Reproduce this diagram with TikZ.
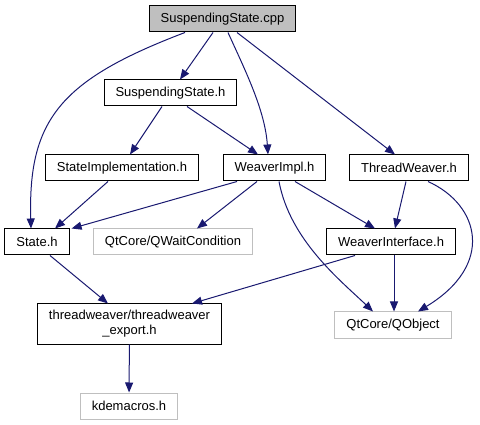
\documentclass[tikz,border=0pt]{standalone}
\usepackage{fontspec}
\setmainfont{Liberation Sans}
\usetikzlibrary{arrows.meta}
\definecolor{edgeblue}{HTML}{191970}
\definecolor{extgrey}{HTML}{BFBFBF}

\begin{document}
\begin{tikzpicture}[
  x=1pt, y=-1pt,
  file/.style={draw=black, line width=1pt, rectangle, inner xsep=11.5pt, inner ysep=2pt,
    minimum height=26pt, font=\fontsize{13}{15}\selectfont, align=center},
  extfile/.style={file, draw=extgrey},
  srcfile/.style={file, fill=extgrey},
  incl/.style={-{Triangle[length=10pt,width=8pt]}, edgeblue, line width=1pt}
]
  \useasboundingbox (0,0) rectangle (480,425);

  % Files
  \node[srcfile] (cpp) at (222.5, 19) {SuspendingState.cpp};
  \node[file] (susph) at (170.5, 93) {SuspendingState.h};
  \node[file] (stimpl) at (122, 168) {StateImplementation.h};
  \node[file] (wimpl) at (274.5, 168) {WeaverImpl.h};
  \node[file] (tw) at (409, 168) {ThreadWeaver.h};
  \node[file] (stateh) at (37, 242) {State.h};
  \node[extfile] (qwait) at (173, 242) {QtCore/QWaitCondition};
  \node[file] (wif) at (391, 242) {WeaverInterface.h};
  \node[file, minimum height=40pt] (export) at (129.5, 324) {threadweaver/threadweaver\\\_export.h};
  \node[extfile] (qobj) at (393, 325) {QtCore/QObject};
  \node[extfile] (kdem) at (129, 406) {kdemacros.h};

  % Includes of SuspendingState.cpp
  \draw[incl] ([xshift=-37.5pt]cpp.south) .. controls (60,80) and (28,120) .. ([xshift=-6pt]stateh.north);
  \draw[incl] ([xshift=-9.5pt]cpp.south) -- ([xshift=9.5pt]susph.north);
  \draw[incl] ([xshift=5.5pt]cpp.south) .. controls (245,70) and (265,110) .. ([xshift=-6.5pt]wimpl.north);
  \draw[incl] ([xshift=14.5pt]cpp.south) -- ([xshift=-14pt]tw.north);

  % Includes of SuspendingState.h
  \draw[incl] ([xshift=-8.5pt]susph.south) -- ([xshift=8pt]stimpl.north);
  \draw[incl] ([xshift=16.5pt]susph.south) -- ([xshift=-16.5pt]wimpl.north);

  % Second level
  \draw[incl] ([xshift=-14pt]stimpl.south) -- ([xshift=18pt]stateh.north);
  \draw[incl] ([xshift=-37.5pt]wimpl.south) -- ([xshift=2pt]stateh.north east);
  \draw[incl] ([xshift=-17.5pt]wimpl.south) -- ([xshift=24pt]qwait.north);
  \draw[incl] ([xshift=4.5pt]wimpl.south) .. controls (290,240) and (340,280) .. ([xshift=-20pt]qobj.north);
  \draw[incl] ([xshift=20.5pt]wimpl.south) -- ([xshift=-16pt]wif.north);
  \draw[incl] ([xshift=-3pt]tw.south) -- ([xshift=4pt]wif.north);
  \draw[incl] ([xshift=19pt]tw.south) .. controls (480,205) and (495,265) .. ([xshift=25pt]qobj.north);

  % Third level
  \draw[incl] ([xshift=13pt]stateh.south) -- ([xshift=-21.5pt]export.north);
  \draw[incl] ([xshift=-36pt]wif.south) -- ([xshift=62.5pt]export.north);
  \draw[incl] ([xshift=3pt]wif.south) -- ([xshift=1pt]qobj.north);
  \draw[incl] (export) -- (kdem);
\end{tikzpicture}
\end{document}
